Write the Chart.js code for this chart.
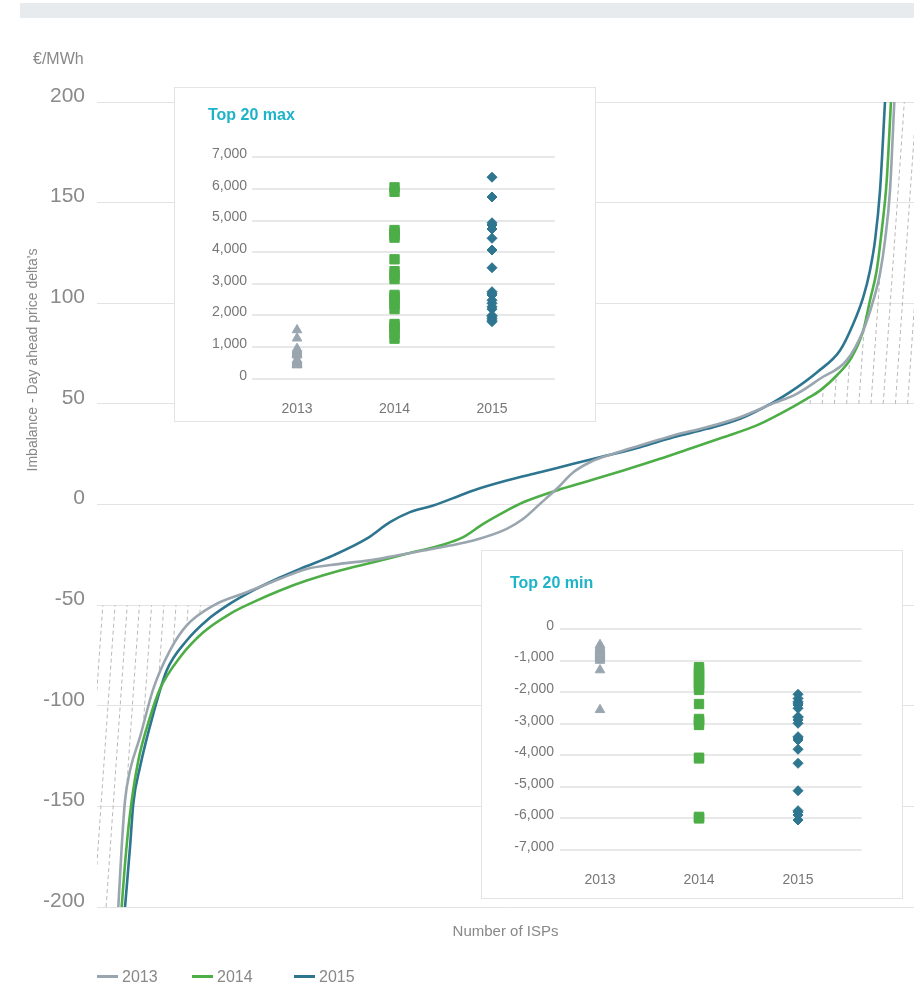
<!DOCTYPE html>
<html><head><meta charset="utf-8">
<script src="https://cdn.jsdelivr.net/npm/chart.js@4.4.1/dist/chart.umd.min.js"></script>
<style>
html,body{margin:0;padding:0;background:#fff;}
body{width:914px;height:987px;position:relative;overflow:hidden;font-family:"Liberation Sans",Arial,sans-serif;}
#topbar{position:absolute;left:20px;top:3px;width:894px;height:15px;background:#e8ebee;}
#mainWrap{position:absolute;left:0;top:0;width:914px;height:987px;}
#unit{position:absolute;left:33px;top:49px;font-size:16px;color:#888;line-height:20px;}
#ytitle{position:absolute;left:-118px;top:350px;width:300px;height:20px;line-height:20px;text-align:center;font-size:14px;color:#888;transform:rotate(-90deg);white-space:nowrap;}
.inset{position:absolute;background:#fff;border:1px solid #e4e4e4;box-sizing:border-box;}
.ititle{position:absolute;font-weight:bold;font-size:16px;color:#1db3c8;line-height:20px;white-space:nowrap;}
.inset canvas{position:absolute;left:0;top:0;}
.leg{position:absolute;top:968px;font-size:16px;color:#888;line-height:18px;white-space:nowrap;}
.sw{display:inline-block;width:21px;height:3px;vertical-align:middle;margin-right:4px;position:relative;top:-1px;}
</style></head>
<body>
<div id="topbar"></div>
<div id="mainWrap"><canvas id="mainChart" width="914" height="987"></canvas></div>
<div id="unit">€/MWh</div>
<div id="ytitle">Imbalance - Day ahead price delta's</div>
<div class="inset" id="maxBox" style="left:174px;top:87px;width:422px;height:335px;">
  <canvas id="maxChart" width="420" height="333"></canvas>
  <div class="ititle" style="left:33px;top:17px;">Top 20 max</div>
</div>
<div class="inset" id="minBox" style="left:481px;top:550px;width:422px;height:349px;">
  <canvas id="minChart" width="420" height="347"></canvas>
  <div class="ititle" style="left:28px;top:22px;">Top 20 min</div>
</div>
<div id="legend"></div>
<script>
// ---------- data ----------
const years = ['2013', '2014', '2015'];

// main chart: x = share of ISPs (0-100), y = imbalance - day ahead price delta (€/MWh)
const isp2013 = [2.61,3.02,3.43,4.04,5.26,6.89,8.94,10.98,14.24,18.32,22.40,25.67,29.74,33.82,36.68,39.94,43.21,46.06,50.15,52.18,54.22,56.27,58.30,60.34,63.19,66.46,70.54,74.63,78.70,82.78,85.64,88.49,91.76,93.79,95.02,95.84,96.45,97.06,97.59];
const delta2013 = [-200,-170.3,-147.1,-132.2,-115.6,-91.6,-72.5,-60.1,-50.2,-43.6,-36.9,-32.0,-29.5,-27.5,-25.3,-22.9,-20.4,-17.9,-12.1,-7.1,0.3,7.8,16.0,21.0,25.2,29.3,34.3,38.4,43.4,50.3,55.0,62.5,71.6,86.5,101.4,114.8,131.2,156.0,200];

const isp2014 = [3.02,3.43,4.04,5.06,6.49,7.71,10.16,13.01,16.28,19.13,22.40,25.67,29.74,33.82,37.91,41.98,44.83,47.28,50.15,52.18,56.27,60.34,64.42,68.91,72.18,76.66,80.75,84.00,86.87,88.49,90.54,92.38,93.79,94.61,95.43,96.05,96.66,97.18];
const delta2014 = [-200,-178.5,-153.7,-127.2,-105.7,-91.6,-75.9,-63.5,-54.3,-48.5,-42.7,-37.8,-32.8,-28.7,-24.5,-20.4,-16.2,-9.6,-3.0,1.1,7.0,11.9,16.9,22.7,27.2,33.4,39.3,45.9,52.5,56.6,64.1,73.2,86.5,101.4,116.3,136.1,161.0,200];

const isp2015 = [3.43,4.04,4.44,5.26,6.89,8.53,10.98,13.43,16.28,19.13,22.40,24.85,28.92,33.01,35.86,38.31,41.16,44.43,46.06,50.15,54.22,58.30,62.39,66.46,70.54,74.63,78.70,82.78,84.82,88.25,90.94,92.57,93.79,94.61,95.23,95.84,96.45];
const delta2015 = [-200,-170.3,-148.7,-130.5,-104.0,-82.5,-67.6,-57.6,-49.3,-42.7,-36.3,-32.0,-25.3,-17.0,-8.8,-3.8,-0.5,4.5,7.0,11.9,16.0,20.2,24.3,28.5,33.4,37.6,42.6,50.8,55.8,66.1,76.5,89.8,103.0,116.3,131.2,156.0,200];

const mainTicks = [-200,-150,-100,-50,0,50,100,150,200];

// insets: top 20 max / min deltas per year
const max2013 = [1540,1280,950,900,870,840,800,780,760,740,600,570,540,520,500,480,460,450,440,430];
const max2014 = [6050,5910,4700,4620,4540,4460,3775,3400,3280,3150,2650,2580,2500,2350,2200,1730,1650,1580,1420,1265];
const max2015 = [6370,5745,4930,4860,4733,4439,4069,3509,2751,2700,2646,2480,2384,2276,2200,2000,1960,1900,1850,1802];
const maxTicks = [0,1000,2000,3000,4000,5000,6000,7000];

const min2013 = [-500,-550,-600,-620,-650,-680,-700,-720,-750,-780,-800,-820,-850,-870,-900,-920,-950,-1000,-1300,-2560];
const min2014 = [-1210,-1290,-1370,-1450,-1530,-1610,-1690,-1770,-1850,-1930,-2376,-2850,-2900,-2950,-3040,-4077,-4100,-5950,-5977,-6000];
const min2015 = [-2068,-2200,-2303,-2350,-2407,-2512,-2778,-2800,-2882,-2987,-3411,-3450,-3516,-3811,-4254,-5122,-5755,-5800,-5892,-6050];
const minTicks = [0,-1000,-2000,-3000,-4000,-5000,-6000,-7000];

// ---------- styles ----------
const FONT = '"Liberation Sans", Arial, sans-serif';
const COL = ['#9aa6af', '#4dae47', '#2e7590'];

// legend (HTML)
const legX = [97, 192, 294];
const legend = document.getElementById('legend');
years.forEach((yr, i) => {
  const d = document.createElement('div');
  d.className = 'leg';
  d.style.left = legX[i] + 'px';
  d.innerHTML = '<span class="sw" style="background:' + COL[i] + '"></span>' + yr;
  legend.appendChild(d);
});

// hatch plugin: dashed diagonal hatching outside the curves in the extreme zones
const hatchPlugin = {
  id: 'hatch',
  beforeDatasetsDraw(chart) {
    const {ctx, chartArea: ca, scales: {y}} = chart;
    const metas = chart.data.datasets.map((d, i) => chart.getDatasetMeta(i));
    const drawLines = (yTop, yBot, x0, x1, startX) => {
      ctx.setLineDash([4, 3]);
      ctx.strokeStyle = '#b9b9b9';
      ctx.lineWidth = 1;
      const h = yBot - yTop;
      for (let xb = startX; xb < x1 + 20; xb += 12.2) {
        ctx.beginPath();
        ctx.moveTo(xb, yBot);
        ctx.lineTo(xb + 0.07 * h, yTop);
        ctx.stroke();
      }
    };
    // lower-left
    ctx.save();
    let yT = y.getPixelForValue(-50), yB = y.getPixelForValue(-200);
    ctx.beginPath(); ctx.rect(ca.left, yT, ca.width, yB - yT); ctx.clip();
    metas.forEach(meta => {
      const ds = chart.data.datasets[meta.index].data;
      const pts = meta.data.filter((p, i) => ds[i].y <= -25);
      if (!pts.length) return;
      const f = pts[0], l = pts[pts.length - 1];
      ctx.beginPath();
      ctx.moveTo(ca.left - 100, f.y + 100);
      ctx.lineTo(f.x, f.y + 100);
      pts.forEach(p => ctx.lineTo(p.x, p.y));
      ctx.lineTo(l.x, l.y - 100);
      ctx.lineTo(ca.left - 100, l.y - 100);
      ctx.closePath();
      ctx.clip();
    });
    drawLines(yT, yB, ca.left, ca.left + 200, 81.7 - 12.2 * 3);
    ctx.restore();
    // upper-right
    ctx.save();
    yT = y.getPixelForValue(200); yB = y.getPixelForValue(50);
    ctx.beginPath(); ctx.rect(ca.left, yT, ca.width, yB - yT); ctx.clip();
    metas.forEach(meta => {
      const ds = chart.data.datasets[meta.index].data;
      const pts = meta.data.filter((p, i) => ds[i].y >= 25);
      if (!pts.length) return;
      const f = pts[0], l = pts[pts.length - 1];
      ctx.beginPath();
      ctx.moveTo(f.x, f.y + 100);
      pts.forEach(p => ctx.lineTo(p.x, p.y));
      ctx.lineTo(l.x, l.y - 100);
      ctx.lineTo(ca.right + 100, l.y - 100);
      ctx.lineTo(ca.right + 100, f.y + 100);
      ctx.closePath();
      ctx.clip();
    });
    drawLines(yT, yB, ca.right - 200, ca.right, 810 - 12.2 * 16);
    ctx.restore();
  }
};

const mk = (xs, ys) => xs.map((x, i) => ({x, y: ys[i]}));

new Chart(document.getElementById('mainChart'), {
  type: 'line',
  data: {
    datasets: [
      {label: years[0], data: mk(isp2013, delta2013), borderColor: COL[0], backgroundColor: COL[0]},
      {label: years[1], data: mk(isp2014, delta2014), borderColor: COL[1], backgroundColor: COL[1]},
      {label: years[2], data: mk(isp2015, delta2015), borderColor: COL[2], backgroundColor: COL[2]}
    ]
  },
  options: {
    responsive: false,
    animation: false,
    layout: {padding: {top: 102, left: 0, right: 0, bottom: 0}},
    plugins: {legend: {display: false}, tooltip: {enabled: false}},
    elements: {
      point: {radius: 0, hoverRadius: 0},
      line: {borderWidth: 2.6, cubicInterpolationMode: 'monotone', fill: false}
    },
    scales: {
      x: {
        type: 'linear', min: 0, max: 100,
        grid: {display: false}, border: {display: false},
        ticks: {display: false},
        title: {display: true, text: 'Number of ISPs', color: '#888', font: {size: 15, family: FONT}, padding: {top: 0, bottom: 46}},
        afterFit(s) { s.height = 80; }
      },
      y: {
        min: -200, max: 200,
        afterBuildTicks(s) { s.ticks = mainTicks.map(v => ({value: v})); },
        grid: {color: '#e3e3e3', lineWidth: 1, drawTicks: false},
        border: {display: false},
        ticks: {color: '#8a8a8a', font: {size: 21, family: FONT}, padding: 12, labelOffset: -6, callback: v => String(v)},
        afterFit(s) { s.width = 97; }
      }
    }
  },
  plugins: [hatchPlugin]
});

function insetChart(id, vals, ticksArr, yMin, yMax, box) {
  const styles = [
    {pointStyle: 'triangle', radius: 5.5},
    {pointStyle: 'rect', radius: 6.6},
    {pointStyle: 'rectRot', radius: 5}
  ];
  return new Chart(document.getElementById(id), {
    type: 'scatter',
    data: {
      datasets: vals.map((arr, i) => ({
        label: years[i],
        data: arr.map(v => ({x: Number(years[i]), y: v})),
        pointStyle: styles[i].pointStyle,
        pointRadius: styles[i].radius,
        pointHoverRadius: styles[i].radius,
        backgroundColor: COL[i],
        borderColor: COL[i],
        pointBorderWidth: 1
      }))
    },
    options: {
      responsive: false,
      animation: false,
      layout: {padding: {top: box.top, right: box.right, left: 0, bottom: 0}},
      plugins: {legend: {display: false}, tooltip: {enabled: false}},
      scales: {
        x: {
          type: 'linear', min: box.xMin, max: box.xMax,
          afterBuildTicks(s) { s.ticks = years.map(v => ({value: Number(v)})); },
          grid: {display: false}, border: {display: false},
          ticks: {color: '#777', font: {size: 14, family: FONT}, padding: box.xPad, callback: v => String(v)},
          afterFit(s) { s.height = box.xH; }
        },
        y: {
          min: yMin, max: yMax,
          afterBuildTicks(s) { s.ticks = ticksArr.map(v => ({value: v})); },
          grid: {color: '#e8e8e8', lineWidth: 2, drawTicks: false},
          border: {display: false},
          ticks: {color: '#777', font: {size: 14, family: FONT}, padding: box.yPad, labelOffset: -3,
                  callback: v => Number(v).toLocaleString('en-US')},
          afterFit(s) { s.width = box.left; }
        }
      }
    }
  });
}

insetChart('maxChart', [max2013, max2014, max2015], maxTicks, 0, 7000,
  {left: 77, right: 40, top: 69.3, xH: 42.3, xPad: 14, yPad: 5, xMin: 2012.538, xMax: 2015.646});
insetChart('minChart', [min2013, min2014, min2015], minTicks, -7000, 0,
  {left: 78, right: 40.3, top: 78, xH: 48, xPad: 14, yPad: 6, xMin: 2012.596, xMax: 2015.643});
</script>
</body></html>
